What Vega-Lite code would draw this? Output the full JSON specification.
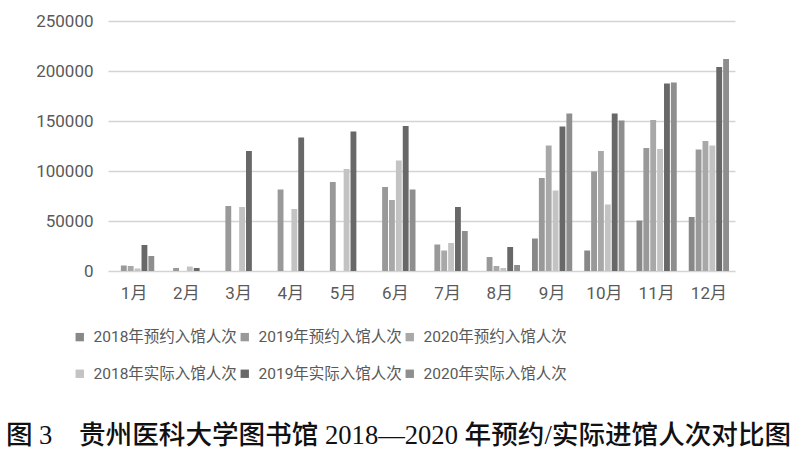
{
  "$schema": "https://vega.github.io/schema/vega-lite/v6.json",
  "autosize": "none",
  "width": 627,
  "height": 250,
  "padding": {"left": 108, "top": 21, "right": 65, "bottom": 187},
  "background": "white",
  "title": {
    "text": "图 3　贵州医科大学图书馆 2018—2020 年预约/实际进馆人次对比图",
    "orient": "bottom",
    "anchor": "middle",
    "dx": -23,
    "offset": 40,
    "font": "Liberation Serif, Noto Sans CJK SC",
    "fontSize": 26.6,
    "fontWeight": 500,
    "color": "#111111"
  },
  "data": {
    "values": [
      {"month": "1月", "series": "2019年预约入馆人次", "value": 5500},
      {"month": "1月", "series": "2020年预约入馆人次", "value": 5000},
      {"month": "1月", "series": "2018年实际入馆人次", "value": 2500},
      {"month": "1月", "series": "2019年实际入馆人次", "value": 26000},
      {"month": "1月", "series": "2020年实际入馆人次", "value": 15000},
      {"month": "2月", "series": "2019年预约入馆人次", "value": 3000},
      {"month": "2月", "series": "2018年实际入馆人次", "value": 4500},
      {"month": "2月", "series": "2019年实际入馆人次", "value": 3000},
      {"month": "3月", "series": "2019年预约入馆人次", "value": 65000},
      {"month": "3月", "series": "2018年实际入馆人次", "value": 64000},
      {"month": "3月", "series": "2019年实际入馆人次", "value": 120000},
      {"month": "4月", "series": "2019年预约入馆人次", "value": 81500},
      {"month": "4月", "series": "2018年实际入馆人次", "value": 62000},
      {"month": "4月", "series": "2019年实际入馆人次", "value": 133500},
      {"month": "5月", "series": "2019年预约入馆人次", "value": 89000},
      {"month": "5月", "series": "2018年实际入馆人次", "value": 102000},
      {"month": "5月", "series": "2019年实际入馆人次", "value": 139500},
      {"month": "6月", "series": "2019年预约入馆人次", "value": 84000},
      {"month": "6月", "series": "2020年预约入馆人次", "value": 71000},
      {"month": "6月", "series": "2018年实际入馆人次", "value": 110500},
      {"month": "6月", "series": "2019年实际入馆人次", "value": 145000},
      {"month": "6月", "series": "2020年实际入馆人次", "value": 81500},
      {"month": "7月", "series": "2019年预约入馆人次", "value": 26500},
      {"month": "7月", "series": "2020年预约入馆人次", "value": 20500},
      {"month": "7月", "series": "2018年实际入馆人次", "value": 28000},
      {"month": "7月", "series": "2019年实际入馆人次", "value": 64000},
      {"month": "7月", "series": "2020年实际入馆人次", "value": 40000},
      {"month": "8月", "series": "2019年预约入馆人次", "value": 14000},
      {"month": "8月", "series": "2020年预约入馆人次", "value": 5000},
      {"month": "8月", "series": "2018年实际入馆人次", "value": 3000},
      {"month": "8月", "series": "2019年实际入馆人次", "value": 24000},
      {"month": "8月", "series": "2020年实际入馆人次", "value": 6000},
      {"month": "9月", "series": "2018年预约入馆人次", "value": 32500},
      {"month": "9月", "series": "2019年预约入馆人次", "value": 93000},
      {"month": "9月", "series": "2020年预约入馆人次", "value": 125500},
      {"month": "9月", "series": "2018年实际入馆人次", "value": 80500},
      {"month": "9月", "series": "2019年实际入馆人次", "value": 144500},
      {"month": "9月", "series": "2020年实际入馆人次", "value": 157500},
      {"month": "10月", "series": "2018年预约入馆人次", "value": 20500},
      {"month": "10月", "series": "2019年预约入馆人次", "value": 99500},
      {"month": "10月", "series": "2020年预约入馆人次", "value": 120000},
      {"month": "10月", "series": "2018年实际入馆人次", "value": 66500},
      {"month": "10月", "series": "2019年实际入馆人次", "value": 157500},
      {"month": "10月", "series": "2020年实际入馆人次", "value": 150500},
      {"month": "11月", "series": "2018年预约入馆人次", "value": 50500},
      {"month": "11月", "series": "2019年预约入馆人次", "value": 123000},
      {"month": "11月", "series": "2020年预约入馆人次", "value": 151000},
      {"month": "11月", "series": "2018年实际入馆人次", "value": 122000},
      {"month": "11月", "series": "2019年实际入馆人次", "value": 187500},
      {"month": "11月", "series": "2020年实际入馆人次", "value": 188500},
      {"month": "12月", "series": "2018年预约入馆人次", "value": 54000},
      {"month": "12月", "series": "2019年预约入馆人次", "value": 121500},
      {"month": "12月", "series": "2020年预约入馆人次", "value": 130000},
      {"month": "12月", "series": "2018年实际入馆人次", "value": 125500},
      {"month": "12月", "series": "2019年实际入馆人次", "value": 204000},
      {"month": "12月", "series": "2020年实际入馆人次", "value": 212000}
    ]
  },
  "mark": {"type": "bar"},
  "encoding": {
    "x": {
      "field": "month",
      "type": "nominal",
      "sort": ["1月","2月","3月","4月","5月","6月","7月","8月","9月","10月","11月","12月"],
      "scale": {"paddingInner": 0.23, "paddingOuter": 0.115},
      "axis": {
        "title": null,
        "labelAngle": 0,
        "labelFont": "Roboto, Noto Sans CJK SC",
        "labelFontSize": 17,
        "labelColor": "#595959",
        "labelPadding": 14,
        "ticks": false,
        "domain": false
      }
    },
    "xOffset": {
      "field": "series",
      "type": "nominal",
      "scale": {
        "domain": ["2018年预约入馆人次","2019年预约入馆人次","2020年预约入馆人次","2018年实际入馆人次","2019年实际入馆人次","2020年实际入馆人次"],
        "paddingInner": 0.15,
        "paddingOuter": 0
      }
    },
    "y": {
      "field": "value",
      "type": "quantitative",
      "scale": {"domain": [0, 250000]},
      "axis": {
        "title": null,
        "values": [0, 50000, 100000, 150000, 200000, 250000],
        "format": "d",
        "labelFont": "Roboto",
        "labelFontSize": 17,
        "labelColor": "#595959",
        "labelPadding": 15,
        "ticks": false,
        "domain": false,
        "grid": true,
        "gridColor": "#d4d4d4",
        "gridWidth": 1.6
      }
    },
    "color": {
      "field": "series",
      "type": "nominal",
      "scale": {
        "domain": ["2018年预约入馆人次","2019年预约入馆人次","2020年预约入馆人次","2018年实际入馆人次","2019年实际入馆人次","2020年实际入馆人次"],
        "range": ["#888888","#999999","#a8a8a8","#c3c3c3","#686868","#8e8e8e"]
      },
      "legend": {
        "title": null,
        "orient": "none",
        "legendX": -36,
        "legendY": 308,
        "direction": "horizontal",
        "columns": 3,
        "symbolType": "square",
        "symbolSize": 70,
        "symbolStrokeWidth": 0,
        "symbolOpacity": 1,
        "labelFont": "Roboto, Noto Sans CJK SC",
        "labelFontSize": 15.5,
        "labelColor": "#595959",
        "labelOffset": 6,
        "labelLimit": 300,
        "columnPadding": 0,
        "rowPadding": 20
      }
    }
  },
  "config": {
    "view": {"stroke": null},
    "bar": {"stroke": null}
  }
}
